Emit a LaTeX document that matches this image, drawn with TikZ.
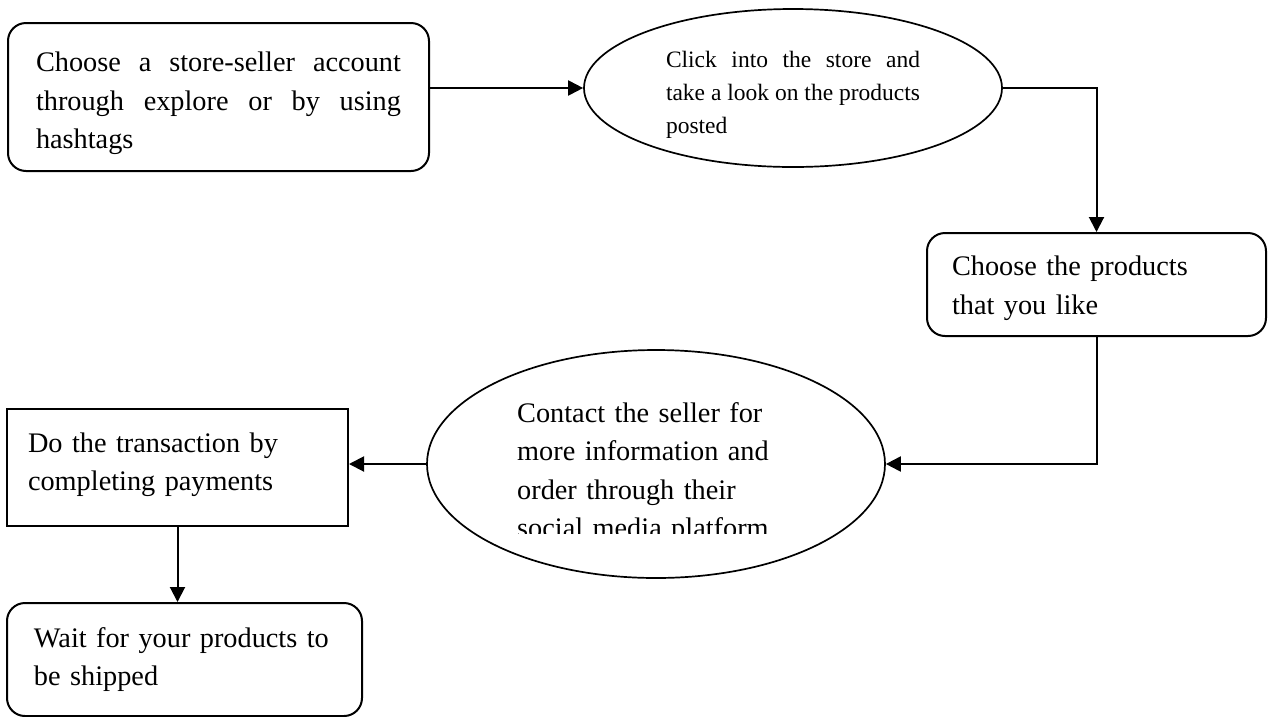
\documentclass[tikz,border=0pt]{standalone}
\usepackage{fontspec}
\setmainfont{Liberation Serif}
\usetikzlibrary{shapes.geometric,arrows.meta}

\begin{document}
\begin{tikzpicture}[
    x=1pt, y=-1pt,
    font=\fontsize{28.3}{38.5}\selectfont,
    box/.style={draw, line width=2pt, rounded corners=18pt, inner sep=0pt, align=left},
    oval/.style={draw, ellipse, line width=1.7pt, inner sep=0pt},
    flow/.style={-{Triangle[length=15pt,width=15pt]}, line width=2pt}
]
\useasboundingbox (0,0) rectangle (1269,716);

% Pick a seller
\node[box, minimum width=421pt, minimum height=148pt, text width=365pt, align=justify, text depth=70pt] (store) at (218.5,97)
    {Choose a store-seller account\linebreak through explore or by using\linebreak hashtags};

% Visit the store
\node[oval, minimum width=418pt, minimum height=158pt, text width=254pt, align=justify, text depth=58pt,
      font=\fontsize{23.5}{33}\selectfont] (click) at (793,88)
    {Click into the store and\linebreak take a look on the products\linebreak posted};

% Pick products
\node[box, minimum width=339pt, minimum height=103pt, text width=289pt, text depth=37pt] (choose) at (1096.5,284.5)
    {Choose the products\\that you like};

% Contact the seller (last line is cut off)
\node[oval, minimum width=458pt, minimum height=228pt] (contact) at (656,464) {};
\begin{scope}
    \clip (430,350) rectangle (885,533);
    \node[text width=300pt, align=left, inner sep=0pt, anchor=base west] (contacttext) at (517,422)
        {Contact the seller for\\more information and\\order through their\\social media platform};
\end{scope}

% Payment
\node[box, sharp corners, minimum width=341pt, minimum height=117pt, text width=299pt, text depth=50pt] (pay) at (177.5,467.5)
    {Do the transaction by\\completing payments};

% Shipping
\node[box, minimum width=355pt, minimum height=113pt, text width=301pt] (wait) at (184.5,659.5)
    {\makebox[301pt][l]{Wait for your products to}\\be shipped};

% Connectors
\draw[flow] (store.east |- click.west) -- (click.west);
\draw[flow] (click.east) -| (choose.north);
\draw[flow] (choose.south) |- (contact.east);
\draw[flow] (contact.west) -- (contact.west -| pay.east);
\draw[flow] (pay.south) -- (pay.south |- wait.north);

\end{tikzpicture}
\end{document}
